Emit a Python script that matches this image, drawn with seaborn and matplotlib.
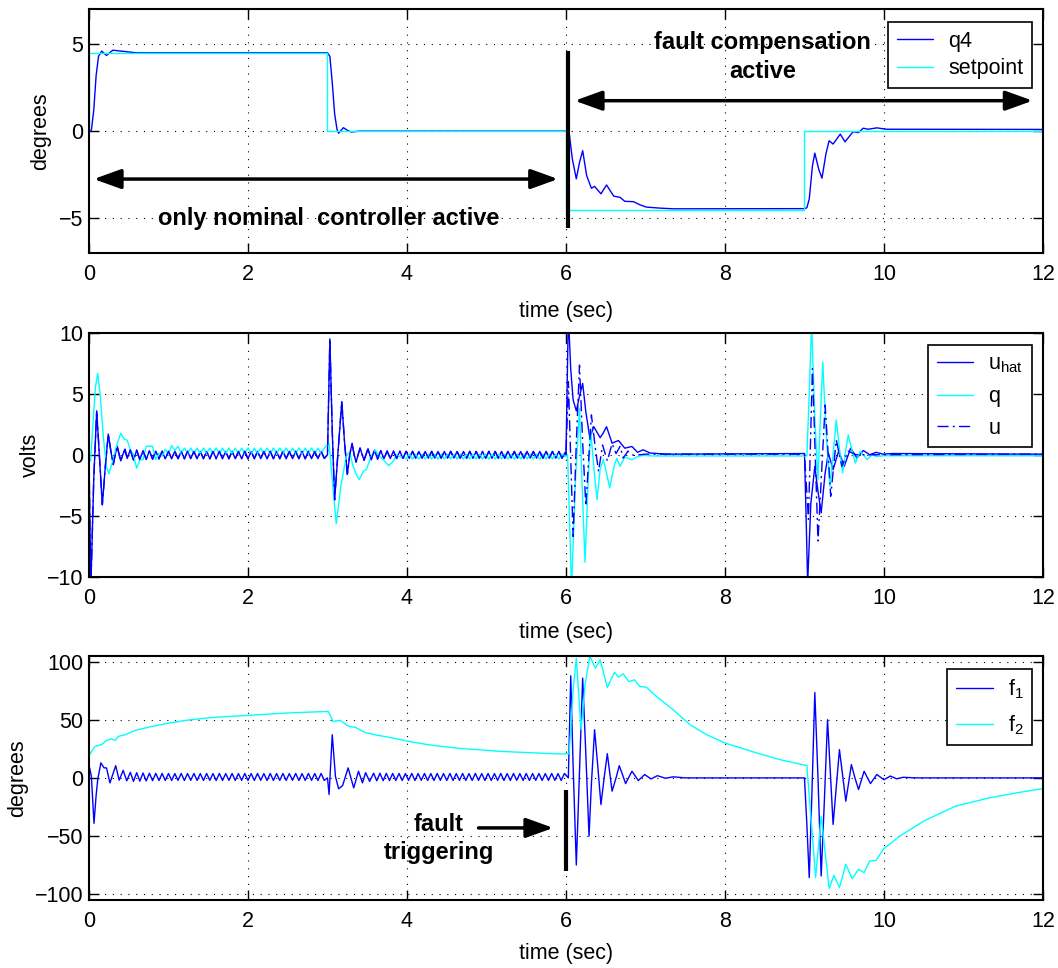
import numpy as np
import matplotlib
matplotlib.use('Agg')
import matplotlib.pyplot as plt
import seaborn as sns

BLUE = '#0000ff'
CYAN = '#00ffff'

# ---------------- top panel: q4 and setpoint (degrees)
t_setpoint = [0, 0, 3, 3, 6, 6, 9, 9, 12]
setpoint = [0, 4.5, 4.5, 0, 0, -4.5, -4.5, 0, 0]

t_q4 = [0, 0.03, 0.06, 0.09, 0.12, 0.16, 0.22, 0.3, 0.4, 0.5, 0.6,
        3.0, 3.03, 3.06, 3.09, 3.12, 3.14, 3.2, 3.25, 3.3, 3.4,
        6.0, 6.04, 6.08, 6.13, 6.17, 6.21, 6.26, 6.32, 6.36, 6.44, 6.51, 6.6, 6.68, 6.74, 6.85, 6.93, 7.01, 7.18, 7.35,
        9.0, 9.03, 9.06, 9.1, 9.13, 9.18, 9.22, 9.27, 9.31, 9.36, 9.45, 9.51, 9.61, 9.68, 9.74, 9.8, 9.91, 10.03, 12]
q4 = [0, 0.05, 1.2, 3.2, 4.3, 4.6, 4.35, 4.65, 4.6, 4.55, 4.5,
      4.5, 4.3, 2.8, 1.0, 0.1, -0.12, 0.2, 0.05, -0.05, 0,
      0, -0.1, -1.6, -2.74, -1.8, -1.12, -2.55, -3.28, -3.17, -3.6, -3.09, -3.73, -3.8, -4.03, -4.05, -4.23, -4.36, -4.42, -4.46,
      -4.45, -4.4, -3.9, -2.0, -1.26, -2.2, -2.7, -1.3, -0.55, -0.74, -0.17, -0.61, -0.04, -0.08, 0.17, 0.11, 0.19, 0.11, 0.1]

# ---------------- middle panel: u_hat, q, u (volts)
# transients (time, value) + ripple peaks/troughs every 0.04 s
uhat_t_a = [0, 0.012, 0.025, 0.06, 0.097, 0.13, 0.168, 0.205, 0.243, 0.275, 0.306, 0.33, 0.356, 0.38, 0.40, 0.425, 0.453, 0.48]
uhat_a = [0, -6, -10.5, -2, 3.6, 0, -4.1, -1, 1.7, 0.3, -0.8, 0, 0.7, 0, -0.5, 0, 0.45, -0.3]
uhat_rip1 = [0.40, -0.45, 0.38, -0.40, 0.35, -0.38, 0.33, -0.36, 0.30, -0.34, 0.29, -0.33, 0.28, -0.33, 0.29, -0.32,
             0.28, -0.33, 0.28, -0.32, 0.27, -0.33, 0.28, -0.32, 0.28, -0.33, 0.27, -0.32, 0.28, -0.32, 0.27, -0.33,
             0.28, -0.32, 0.27, -0.32, 0.28, -0.33, 0.27, -0.32, 0.28, -0.32, 0.27, -0.33, 0.28, -0.32, 0.27, -0.32,
             0.28, -0.33, 0.27, -0.32, 0.28, -0.32, 0.27, -0.33, 0.28, -0.32, 0.27, -0.32, 0.28, -0.30]
uhat_t_b = [3.0, 3.03, 3.06, 3.09, 3.13, 3.18, 3.215, 3.25, 3.28, 3.31, 3.335, 3.36, 3.385, 3.41, 3.46, 3.51]
uhat_b = [0, 9.5, 2, -3.7, 0, 4.35, 1, -1.6, 0, 0.95, 0, -0.6, 0, 0.55, -0.45, 0.5]
uhat_rip2 = [-0.40, 0.38, -0.36, 0.34, -0.33, 0.31, -0.31, 0.30, -0.30, 0.29, -0.29, 0.28, -0.29, 0.28, -0.28, 0.27,
             -0.28, 0.27, -0.28, 0.28, -0.27, 0.27, -0.28, 0.27, -0.28, 0.28, -0.27, 0.27, -0.28, 0.27, -0.28, 0.28,
             -0.27, 0.27, -0.28, 0.27, -0.28, 0.28, -0.27, 0.27, -0.28, 0.27, -0.28, 0.28, -0.27, 0.27, -0.28, 0.27,
             -0.28, 0.28, -0.27, 0.27, -0.28, 0.27, -0.28, 0.28, -0.27, 0.27, -0.28, 0.27, -0.28, 0.20]
uhat_t_c = [6.0, 6.03, 6.06, 6.09, 6.13, 6.17, 6.21, 6.25, 6.30, 6.35, 6.43, 6.47, 6.51, 6.58, 6.66, 6.74, 6.83, 6.9, 6.97, 7.06, 7.27,
            9.0, 9.02, 9.04, 9.08, 9.13, 9.17, 9.21, 9.26, 9.30, 9.36, 9.43, 9.5, 9.58, 9.66, 9.74, 9.82, 9.9, 9.99, 10.1, 12]
uhat_c = [0, 11.5, 7, 4.5, 3.6, 4.8, 5.85, 3.5, 1.4, 2.3, 1.4, 1.8, 2.3, 0.95, 1.17, 0.54, 0.68, 0.2, 0.41, 0.14, 0.05,
          0.1, -5, -10.5, -4, -0.95, -3, -4.76, -1.5, 0.14, -1.22, 0.3, -0.95, 0.54, -0.27, 0.35, 0.0, 0.2, 0.05, 0.1, 0.05]

q_t_a = [0, 0.02, 0.05, 0.08, 0.109, 0.14, 0.18, 0.22, 0.25, 0.3, 0.35, 0.40]
q_a = [-0.5, -0.5, 2.5, 5.5, 6.67, 5.0, 1.5, -1.0, -1.55, -0.5, 0.8, 1.77]
q_rip1 = [1.30, 1.20, 0.40, 0.00, -1.10, -0.40, -0.40, 0.70, 0.70, 0.70, -0.40, 0.10, -0.10, 0.45, 0.10, 0.75,
          0.35, 0.70, 0.10, 0.55, 0.10, 0.56, 0.09, 0.55, 0.10, 0.56, 0.10, 0.55, 0.09, 0.56, 0.10, 0.55,
          0.10, 0.56, 0.09, 0.55, 0.10, 0.55, 0.10, 0.56, 0.09, 0.55, 0.10, 0.56, 0.10, 0.55, 0.09, 0.56,
          0.10, 0.55, 0.10, 0.56, 0.09, 0.55, 0.10, 0.56, 0.10, 0.55, 0.09, 0.56, 0.10, 0.55, 0.10, 0.55]
q_t_b = [3.02, 3.06, 3.11, 3.17, 3.24, 3.28, 3.32, 3.36, 3.40, 3.45, 3.49, 3.54, 3.6, 3.65, 3.7, 3.77, 3.82, 3.87, 3.92, 3.95]
q_b = [0.95, -2.0, -5.66, -2.5, 0.0, 0.2, -0.9, -1.6, -2.04, -1.36, -1.2, -0.3, 0.4, -0.1, -0.4, -0.9, -0.6, 0.0, -0.2, -0.1]
q_rip2 = [-0.35, 0.05, -0.36, 0.04, -0.35, 0.05, -0.34, 0.05, -0.35, 0.04, -0.36, 0.05, -0.35, 0.05, -0.34, 0.04,
          -0.35, 0.05, -0.36, 0.05, -0.35, 0.04, -0.34, 0.05, -0.35, 0.05, -0.36, 0.04, -0.35, 0.05, -0.34, 0.05,
          -0.35, 0.04, -0.36, 0.05, -0.35, 0.05, -0.34, 0.04, -0.35, 0.05, -0.36, 0.05, -0.35, 0.04, -0.34, 0.05,
          -0.35, 0.05]
q_t_c = [5.99, 6.02, 6.07, 6.12, 6.17, 6.20, 6.24, 6.28, 6.31, 6.35, 6.39, 6.43, 6.47, 6.51, 6.55, 6.61, 6.64, 6.68, 6.74, 6.83, 6.9, 6.97, 7.1,
         9.0, 9.03, 9.06, 9.09, 9.13, 9.17, 9.20, 9.23, 9.27, 9.32, 9.36, 9.40, 9.44, 9.48, 9.51, 9.55, 9.6, 9.64, 9.7, 9.74, 9.79, 9.85, 9.9, 10.0, 12]
q_c = [-0.15, 0, -11, -2, 3.8, -2, -8.8, -2, 2.04, -1, -3.67, -1.2, -0.4, -1.5, -2.72, -0.8, -0.3, -0.95, -0.2, -0.41, -0.15, -0.05, -0.1,
       -0.1, -0.1, 5, 10.8, 3, -2, 3, 7.6, 2, -2.6, 0, 2.86, 0.5, -1.5, 0, 1.63, 0.3, -0.68, 0.3, 0.0, -0.4, 0, -0.15, -0.08, -0.08]

# u equals u_hat until the fault, then differs
u_t_c = [6.0, 6.03, 6.09, 6.13, 6.17, 6.21, 6.25, 6.29, 6.32, 6.37, 6.41, 6.46, 6.52, 6.58, 6.63, 6.68, 6.72, 6.78, 6.85, 7.0,
         9.0, 9.05, 9.1, 9.17, 9.26, 9.33, 9.40, 9.47, 9.55, 9.65, 12]
u_c = [0, 6, -6.7, 1, 7.35, 1, -4.2, 0, 3.27, 0.5, -1.36, 0.8, -0.5, 0.9, 0.1, 0.68, -0.27, 0.3, -0.05, 0.05,
       0.05, -5.3, 7.07, -7.07, 4.08, -3.4, 1.22, -0.95, 0.3, 0, 0.05]

# ---------------- bottom panel: f1, f2 (degrees)
f1_t_a = [0, 0.01, 0.03, 0.063, 0.09, 0.11, 0.15, 0.19, 0.22, 0.264, 0.30, 0.336, 0.38, 0.43, 0.475, 0.52]
f1_a = [10, 8, 1.4, -39, -15, -1.4, 12.9, 8.6, 8.6, -4.3, 3, 10.5, -2, 6.5, -2.5, 4.8]
f1_rip1 = [-3.0, 4.5, -2.8, 4.2, -2.6, 4.0, -2.4, 3.9, -2.3, 3.8, -2.2, 3.8, -2.2, 3.7, -2.1, 3.8,
           -2.2, 3.7, -2.1, 3.8, -2.2, 3.7, -2.2, 3.8, -2.1, 3.7, -2.2, 3.8, -2.2, 3.7, -2.1, 3.8,
           -2.2, 3.7, -2.1, 3.8, -2.2, 3.7, -2.2, 3.8, -2.1, 3.7, -2.2, 3.8, -2.2, 3.7, -2.1, 3.8,
           -2.2, 3.7, -2.1, 3.8, -2.2, 3.7, -2.2, 3.8, -2.1, 3.7, -2.2, 3.8, -2.2]
f1_t_b = [3.0, 3.02, 3.06, 3.10, 3.14, 3.19, 3.26, 3.33, 3.39, 3.44, 3.48, 3.53, 3.58, 3.62]
f1_b = [0, -14.3, 37.1, 1.4, -9.4, -6.6, 8.6, -8.6, 5.7, -4.3, 4.5, -3, 4, -2.5]
f1_rip2 = [4.0, -2.4, 3.9, -2.3, 3.8, -2.2, 3.8, -2.2, 3.7, -2.1, 3.8, -2.2, 3.7, -2.1, 3.8, -2.2,
           3.7, -2.2, 3.8, -2.1, 3.7, -2.2, 3.8, -2.2, 3.7, -2.1, 3.8, -2.2, 3.7, -2.2, 3.8, -2.1,
           3.7, -2.2, 3.8, -2.2, 3.7, -2.1, 3.8, -2.2, 3.7, -2.2, 3.8, -2.1, 3.7, -2.2, 3.8, -2.2,
           3.7, -2.1, 3.8, -2.2, 3.7, -2.2, 3.8, -2.1, 3.7, -2.2, 3.8]
f1_t_c = [6.03, 6.06, 6.09, 6.13, 6.17, 6.21, 6.25, 6.29, 6.32, 6.36, 6.40, 6.44, 6.48, 6.52, 6.55, 6.58, 6.63, 6.67, 6.71, 6.75,
          6.83, 6.91, 6.99, 7.07, 7.15, 7.25, 7.35, 7.5,
          9.0, 9.03, 9.06, 9.095, 9.13, 9.17, 9.21, 9.25, 9.29, 9.325, 9.36, 9.40, 9.44, 9.48, 9.52, 9.555, 9.59, 9.635, 9.68, 9.715,
          9.75, 9.83, 9.91, 10.0, 10.08, 10.16, 10.24, 10.4, 12]
f1_c = [0, 87.7, 10, -74.9, 5, 85.7, 20, -50, -5, 41.4, 10, -22.9, 0, 20.8, 5, -11.4, 0, 10.5, 3, -4.9,
        5.7, -2.3, 2.9, -0.9, 1.9, -0.3, 0.9, 0,
        0, -40, -85.7, -10, 73.4, 0, -84.3, -20, 50, 5, -40, -8, 24.3, 2, -20, -4, 11.4, 0, -10, -2,
        5.7, -4.9, 2.9, -1.6, 1.6, -0.8, 0.5, 0, 0]

t_f2 = [0, 0.075, 0.16, 0.22, 0.285, 0.33, 0.37, 0.45, 0.58, 0.79, 1.0, 1.21, 1.42, 1.63, 2.0, 2.47, 2.88, 3.01, 3.07, 3.16,
        3.27, 3.35, 3.47, 3.6, 3.82, 4.05, 4.27, 4.5, 4.72, 5.17, 5.5, 5.92, 6.04,
        6.09, 6.13, 6.19, 6.24, 6.30, 6.37, 6.43, 6.52, 6.61, 6.66, 6.72, 6.79, 6.86, 6.93, 7.01, 7.14, 7.35, 7.56, 7.77, 8.0,
        8.4, 8.69, 9.03,
        9.07, 9.11, 9.14, 9.21, 9.31, 9.37, 9.44, 9.52, 9.60, 9.68, 9.75, 9.82, 9.9, 9.99, 10.2, 10.5, 10.9, 11.33, 11.7, 12]
f2 = [19.1, 27, 28.6, 32.3, 33.4, 32.3, 35.7, 37, 40.8, 44.2, 47, 49.4, 51, 52.3, 53.7, 55.7, 56.8, 57.1, 48.5, 49.4,
      44.2, 43.5, 39.1, 37, 34.3, 31, 28.5, 26.5, 25.1, 22.8, 21.8, 20.6, 20.8,
      75.7, 102.8, 41.4, 80, 104.8, 94.3, 101.4, 77.7, 90.8, 86.6, 89.4, 82.8, 84.3, 78.5, 78, 69.9, 58.5, 45.7, 37.1, 30,
      21.4, 15.7, 10.5,
      -24.3, -58.6, -85.7, -32.9, -95.2, -83.7, -94.3, -74.3, -86.6, -78.6, -81.4, -71.4, -71, -61.4, -50, -37.1, -24.3, -17.1, -12.5, -9.2]


def ripple_times(start, end, values):
    return np.linspace(start, end, len(values))


t_uhat = np.concatenate([uhat_t_a, ripple_times(0.52, 2.96, uhat_rip1), uhat_t_b,
                         ripple_times(3.55, 5.99, uhat_rip2), uhat_t_c])
uhat = np.concatenate([uhat_a, uhat_rip1, uhat_b, uhat_rip2, uhat_c])
n_pre = len(uhat_t_a) + len(uhat_rip1) + len(uhat_t_b) + len(uhat_rip2)
t_u = np.concatenate([t_uhat[:n_pre], u_t_c])
u = np.concatenate([uhat[:n_pre], u_c])
t_q = np.concatenate([q_t_a, ripple_times(0.44, 2.96, q_rip1), q_t_b,
                      ripple_times(3.99, 5.95, q_rip2), q_t_c])
q = np.concatenate([q_a, q_rip1, q_b, q_rip2, q_c])
t_f1 = np.concatenate([f1_t_a, ripple_times(0.56, 2.96, f1_rip1), f1_t_b,
                       ripple_times(3.66, 5.98, f1_rip2), f1_t_c])
f1 = np.concatenate([f1_a, f1_rip1, f1_b, f1_rip2, f1_c])

sns.set_style('ticks', {'axes.edgecolor': 'black', 'text.color': 'black', 'axes.labelcolor': 'black',
                        'xtick.color': 'black', 'ytick.color': 'black'})
plt.rcParams['font.family'] = ['Liberation Sans', 'DejaVu Sans']
plt.rcParams['axes.unicode_minus'] = True

fig = plt.figure(figsize=(10.58, 9.68), dpi=100)
ax1 = fig.add_axes([0.0841, 0.7386, 0.9017, 0.2518])
ax2 = fig.add_axes([0.0841, 0.4042, 0.9017, 0.2520])
ax3 = fig.add_axes([0.0841, 0.0702, 0.9017, 0.2524])


def line(ax, x, y, color, label):
    sns.lineplot(x=np.asarray(x, float), y=np.asarray(y, float), ax=ax, color=color, lw=1.0,
                 estimator=None, sort=False, label=label)
    return ax.lines[-1]


def style_axes(ax, ylim, yticks, ylabel, ylab_x, xlab_y):
    ax.set_xlim(0, 12)
    ax.set_ylim(*ylim)
    ax.set_xticks(range(0, 13, 2))
    ax.set_yticks(yticks)
    ax.grid(True, color='black', linestyle=(0, (1, 6)), linewidth=0.8)
    ax.tick_params(direction='in', length=7, width=1, top=True, right=True, labelsize=15.5)
    ax.tick_params(axis='x', pad=8)
    ax.tick_params(axis='y', pad=4)
    for s in ax.spines.values():
        s.set_visible(True)
        s.set_linewidth(1.5)
        s.set_color('black')
    ax.set_xlabel('time (sec)', fontsize=15.5)
    ax.set_ylabel(ylabel, fontsize=15.5)
    ax.yaxis.set_label_coords(ylab_x, 0.5)
    ax.xaxis.set_label_coords(0.5, xlab_y)


def legend(ax, anchor_y, spacing):
    leg = ax.legend(loc='upper right', bbox_to_anchor=(0.9885, anchor_y), borderaxespad=0,
                    fontsize=15.5, frameon=True, fancybox=False, framealpha=1, edgecolor='black',
                    handlelength=1.7, handletextpad=0.7, borderpad=0.4, labelspacing=spacing)
    leg.get_frame().set_linewidth(1.2)


def arrow(ax, start, end, style):
    ax.annotate('', xy=end, xytext=start,
                arrowprops=dict(arrowstyle=style + ',head_length=1.66,head_width=0.6', lw=2.5,
                                color='black', mutation_scale=10, shrinkA=0, shrinkB=0))


# top panel
line(ax1, t_q4, q4, BLUE, 'q4')
line(ax1, t_setpoint, setpoint, CYAN, 'setpoint')
style_axes(ax1, (-7, 7), [-5, 0, 5], 'degrees', -0.040, -0.196)
legend(ax1, 0.948, 0.3)
arrow(ax1, (0.06, -2.75), (5.9, -2.75), '<|-|>')
arrow(ax1, (6.11, 1.75), (11.87, 1.75), '<|-|>')
ax1.plot([6.03, 6.03], [4.6, -5.55], color='black', lw=3, solid_capstyle='butt')
ax1.text(3.02, -5.0, 'only nominal  controller active', ha='center', va='center',
         fontsize=17, fontweight='bold')
ax1.text(8.47, 4.26, 'fault compensation\nactive', ha='center', va='center',
         fontsize=17, fontweight='bold', linespacing=1.3)

# middle panel
line(ax2, t_uhat, uhat, BLUE, r'u$_\mathregular{hat}$')
line(ax2, t_q, q, CYAN, 'q')
ln_u = line(ax2, t_u, u, BLUE, 'u')
ln_u.set_dashes([8, 3, 1.5, 3])
style_axes(ax2, (-10, 10), [-10, -5, 0, 5, 10], 'volts', -0.050, -0.186)
legend(ax2, 0.9496, 0.5)

# bottom panel
line(ax3, t_f1, f1, BLUE, r'f$_\mathregular{1}$')
line(ax3, t_f2, f2, CYAN, r'f$_\mathregular{2}$')
style_axes(ax3, (-105, 105), [-100, -50, 0, 50, 100], 'degrees', -0.064, -0.175)
legend(ax3, 0.9456, 0.55)
arrow(ax3, (4.9, -43), (5.84, -43), '-|>')
ax3.plot([6.0, 6.0], [-10, -80], color='black', lw=3, solid_capstyle='butt')
ax3.text(4.4, -52, 'fault\ntriggering', ha='center', va='center',
         fontsize=17, fontweight='bold', linespacing=1.3)

fig.savefig('out.png', dpi=100)
